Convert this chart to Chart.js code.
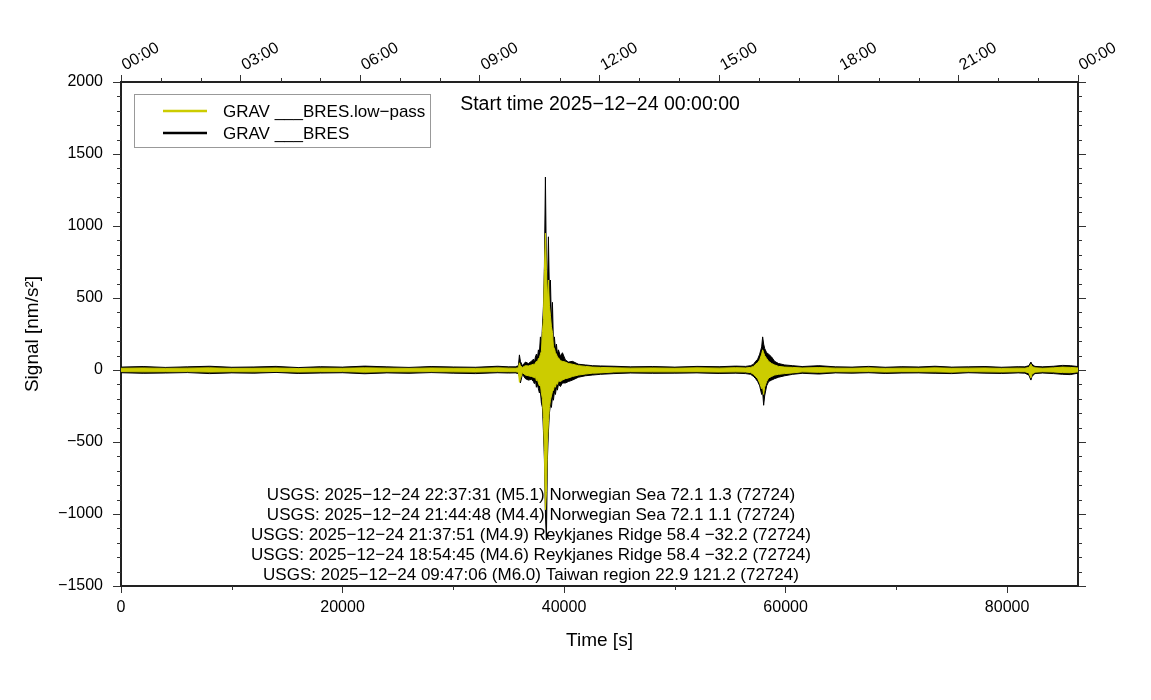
<!DOCTYPE html>
<html>
<head>
<meta charset="utf-8">
<script src="https://cdn.jsdelivr.net/npm/chart.js@4/dist/chart.umd.min.js"></script>
<style>
  html, body { margin: 0; padding: 0; background: #fff; }
  #wrap { width: 1151px; height: 700px; }
</style>
</head>
<body>
<div id="wrap"><canvas id="c" width="1151" height="700"></canvas></div>
<script>
// time of each envelope sample [s]
const timeSec = [
  0, 2000, 4000, 6000, 8000, 10000, 12000, 14000, 16000, 18000, 20000, 22000, 24000, 26000, 28000, 30000, 32000, 34000, 35000,
  35600, 35880, 35970, 36060, 36240, 36510, 36780, 37050,
  37232, 37322, 37413, 37503, 37594, 37684, 37775, 37865, 37955, 38046, 38136, 38227, 38317, 38407,
  38498, 38588, 38679, 38769, 38859, 38950, 39040, 39130, 39221, 39311, 39401, 39492, 39672, 39853,
  40120, 40400, 40760, 41300, 41930, 42560, 43290,
  44500, 46000, 48000, 50000, 52000, 54000, 55500,
  56390, 56840, 57110, 57290, 57480, 57660, 57840, 57930, 58020, 58110, 58290, 58470, 58740, 59010, 59370, 59920, 60640,
  61500, 63000, 64500, 66000, 67500, 69000, 70500, 72000, 73500, 75000, 76500, 78000, 79500, 81000,
  81600, 81960, 82150, 82240, 82510,
  83200, 84200, 85000, 85700, 86400
]
// GRAV ___BRES (raw) upper / lower envelope [nm/s^2]
const rawMax = [
  20, 24, 18, 22, 26, 19, 21, 25, 17, 23, 20, 27, 22, 18, 24, 21, 19, 26, 22,
  22, 30, 105, 60, 30, 55, 45, 60,
  75, 55, 90, 110, 80, 140, 120, 230, 160, 300, 440, 720, 1340, 700,
  560, 925, 520, 625, 330, 470, 190, 230, 140, 180, 110, 140, 95, 120,
  70, 55, 60, 40, 35, 30, 28,
  26, 22, 24, 20, 25, 23, 27,
  25, 30, 40, 60, 75, 110, 160, 230, 180, 150, 120, 110, 90, 60, 45, 35, 30,
  24, 30, 22, 20, 25, 19, 23, 21, 26, 20, 22, 24, 19, 23,
  22, 30, 55, 40, 25,
  22, 26, 32, 30, 24
]
const rawMin = [
  -19, -23, -21, -18, -25, -20, -22, -17, -24, -21, -19, -26, -20, -23, -18, -22, -25, -19, -21,
  -20, -25, -45, -90, -30, -60, -70, -65,
  -80, -95, -70, -120, -100, -130, -160, -150, -230, -260, -420, -620, -1000, -1180,
  -620, -430, -300, -240, -260, -190, -210, -150, -170, -120, -140, -100, -115, -90,
  -90, -80, -70, -50, -40, -35, -30,
  -25, -21, -23, -22, -20, -24, -22,
  -25, -30, -45, -60, -80, -110, -170, -150, -245, -180, -110, -80, -70, -60, -50, -40, -30,
  -23, -28, -20, -22, -19, -24, -21, -20, -23, -25, -19, -22, -24, -20,
  -22, -35, -70, -45, -25,
  -21, -25, -30, -32, -22
]
// GRAV ___BRES.low-pass upper / lower envelope [nm/s^2]
const lowMax = [
  12, 14, 11, 13, 15, 11, 12, 14, 10, 13, 12, 15, 13, 11, 14, 12, 11, 15, 13,
  12, 15, 50, 30, 18, 30, 28, 35,
  40, 35, 50, 60, 55, 80, 85, 110, 130, 260, 350, 690, 950, 700,
  480, 625, 450, 380, 300, 260, 160, 150, 120, 110, 90, 85, 65, 60,
  55, 45, 40, 30, 25, 20, 18,
  15, 13, 14, 12, 15, 13, 16,
  14, 18, 25, 40, 50, 70, 110, 140, 120, 100, 80, 60, 45, 35, 25, 20, 18,
  14, 17, 13, 12, 15, 11, 13, 12, 15, 12, 13, 14, 11, 13,
  12, 18, 40, 25, 15,
  12, 15, 20, 18, 14
]
const lowMin = [
  -11, -13, -12, -11, -14, -12, -13, -10, -14, -12, -11, -15, -12, -13, -11, -13, -14, -11, -12,
  -12, -15, -85, -60, -18, -35, -40, -45,
  -50, -55, -45, -75, -65, -90, -110, -100, -160, -200, -330, -560, -970, -850,
  -500, -360, -260, -210, -180, -150, -140, -110, -120, -90, -100, -75, -80, -70,
  -60, -55, -45, -35, -28, -22, -20,
  -14, -12, -13, -13, -12, -14, -13,
  -14, -18, -30, -45, -60, -90, -130, -120, -170, -120, -80, -55, -45, -35, -30, -25, -20,
  -13, -16, -12, -13, -11, -14, -12, -12, -13, -15, -11, -13, -14, -12,
  -12, -20, -55, -30, -15,
  -12, -14, -18, -19, -13
]
const seriesNames = ['GRAV ___BRES.low\u2212pass', 'GRAV ___BRES']
const xTickValues = [0, 20000, 40000, 60000, 80000]
const quakeLines = [
  'USGS: 2025\u221212\u221224 22:37:31 (M5.1) Norwegian Sea 72.1 1.3 (72724)',
  'USGS: 2025\u221212\u221224 21:44:48 (M4.4) Norwegian Sea 72.1 1.1 (72724)',
  'USGS: 2025\u221212\u221224 21:37:51 (M4.9) Reykjanes Ridge 58.4 \u221232.2 (72724)',
  'USGS: 2025\u221212\u221224 18:54:45 (M4.6) Reykjanes Ridge 58.4 \u221232.2 (72724)',
  'USGS: 2025\u221212\u221224 09:47:06 (M6.0) Taiwan region 22.9 121.2 (72724)'
]
const startText = 'Start time 2025\u221212\u221224 00:00:00'

const YEL = 'rgb(204,204,0)'
const FONT = '"Liberation Sans", Arial, sans-serif'
const minus = (v) => String(v).replace('-', '\u2212')
const pts = (ys) => timeSec.map((t, i) => ({ x: t, y: ys[i] }))

// short ticks between the labelled ones
const minorTicks = {
  id: 'minorTicks',
  afterDraw(chart) {
    const { ctx, scales, chartArea: a } = chart
    ctx.save()
    ctx.strokeStyle = '#333'
    ctx.lineWidth = 1
    ctx.beginPath()
    for (let v = 10000; v < 86400; v += 20000) {
      const px = Math.round(scales.x.getPixelForValue(v)) + 0.5
      ctx.moveTo(px, a.bottom); ctx.lineTo(px, a.bottom + 4)
    }
    for (let v = 3600; v < 86400; v += 3600) {
      if (v % 10800 === 0) continue
      const px = Math.round(scales.xTop.getPixelForValue(v)) + 0.5
      ctx.moveTo(px, a.top); ctx.lineTo(px, a.top - 4)
    }
    for (let v = -1400; v < 2000; v += 100) {
      if (v % 500 === 0) continue
      const py = Math.round(scales.y.getPixelForValue(v)) + 0.5
      ctx.moveTo(a.left, py); ctx.lineTo(a.left - 4, py)
      ctx.moveTo(a.right, py); ctx.lineTo(a.right + 4, py)
    }
    ctx.stroke()
    ctx.restore()
  }
}

// legend box, start time and event list
const labels = {
  id: 'labels',
  afterDraw(chart) {
    const ctx = chart.ctx
    ctx.save()
    ctx.fillStyle = '#fff'
    ctx.fillRect(134.5, 94.5, 296, 53)
    ctx.strokeStyle = '#999'
    ctx.lineWidth = 1
    ctx.strokeRect(134.5, 94.5, 296, 53)
    const cols = [YEL, '#000']
    ctx.font = '17px ' + FONT
    ctx.textBaseline = 'middle'
    ctx.textAlign = 'left'
    seriesNames.forEach((n, i) => {
      const y = 111 + i * 22
      ctx.strokeStyle = cols[i]
      ctx.lineWidth = 2.5
      ctx.beginPath(); ctx.moveTo(163, y); ctx.lineTo(207, y); ctx.stroke()
      ctx.fillStyle = '#000'
      ctx.fillText(n, 223, y + 1)
    })
    ctx.font = '19.5px ' + FONT
    ctx.textAlign = 'center'
    ctx.fillText(startText, 600, 105)
    ctx.font = '17px ' + FONT
    quakeLines.forEach((s, i) => ctx.fillText(s, 531, 495 + i * 20.2))
    ctx.restore()
  }
}

new Chart(document.getElementById('c'), {
  type: 'line',
  data: {
    datasets: [
      { label: seriesNames[0], data: pts(lowMax), borderColor: YEL, backgroundColor: YEL, borderWidth: 1, fill: '+1' },
      { label: 'low min', data: pts(lowMin), borderColor: YEL, borderWidth: 1, fill: false },
      { label: seriesNames[1], data: pts(rawMax), borderColor: '#000', backgroundColor: '#000', borderWidth: 1, fill: '+1' },
      { label: 'raw min', data: pts(rawMin), borderColor: '#000', borderWidth: 1, fill: false }
    ]
  },
  options: {
    responsive: false,
    animation: false,
    elements: { point: { radius: 0 }, line: { tension: 0 } },
    plugins: { legend: { display: false }, tooltip: { enabled: false } },
    scales: {
      x: {
        type: 'linear', position: 'bottom', min: 0, max: 86400,
        afterBuildTicks: (s) => { s.ticks = xTickValues.map((v) => ({ value: v })) },
        afterFit: (s) => { s.height = 114 },
        ticks: { stepSize: 20000, color: '#000', font: { family: FONT, size: 16 }, padding: 5, maxRotation: 0, autoSkip: false, callback: (v) => String(v) },
        grid: { drawOnChartArea: false, tickLength: 7, tickColor: '#333' },
        border: { color: '#222', width: 2 },
        title: { display: true, text: 'Time [s]', color: '#000', font: { family: FONT, size: 19 }, padding: { top: 0, bottom: 48 } }
      },
      xTop: {
        type: 'linear', position: 'top', min: 0, max: 86400,
        afterFit: (s) => { s.height = 82 },
        ticks: {
          stepSize: 10800, color: '#000', font: { family: FONT, size: 16 }, padding: 0, labelOffset: 12,
          minRotation: 30, maxRotation: 30, autoSkip: false,
          callback: (v) => String((v / 3600) % 24).padStart(2, '0') + ':00'
        },
        grid: { drawOnChartArea: false, tickLength: 7, tickColor: '#333' },
        border: { color: '#222', width: 2 }
      },
      y: {
        type: 'linear', position: 'left', min: -1500, max: 2000,
        afterFit: (s) => { s.width = 121 },
        ticks: { stepSize: 500, color: '#000', font: { family: FONT, size: 16 }, padding: 10, callback: minus },
        grid: { drawOnChartArea: false, tickLength: 8, tickColor: '#333' },
        border: { color: '#222', width: 2 },
        title: { display: true, text: 'Signal [nm/s\u00b2]', color: '#000', font: { family: FONT, size: 19 }, padding: { top: 21, bottom: 0 } }
      },
      yRight: {
        type: 'linear', position: 'right', min: -1500, max: 2000,
        afterFit: (s) => { s.width = 73 },
        ticks: { stepSize: 500, display: false },
        grid: { drawOnChartArea: false, tickLength: 8, tickColor: '#333' },
        border: { color: '#222', width: 2 }
      }
    }
  },
  plugins: [minorTicks, labels]
})
</script>
</body>
</html>
